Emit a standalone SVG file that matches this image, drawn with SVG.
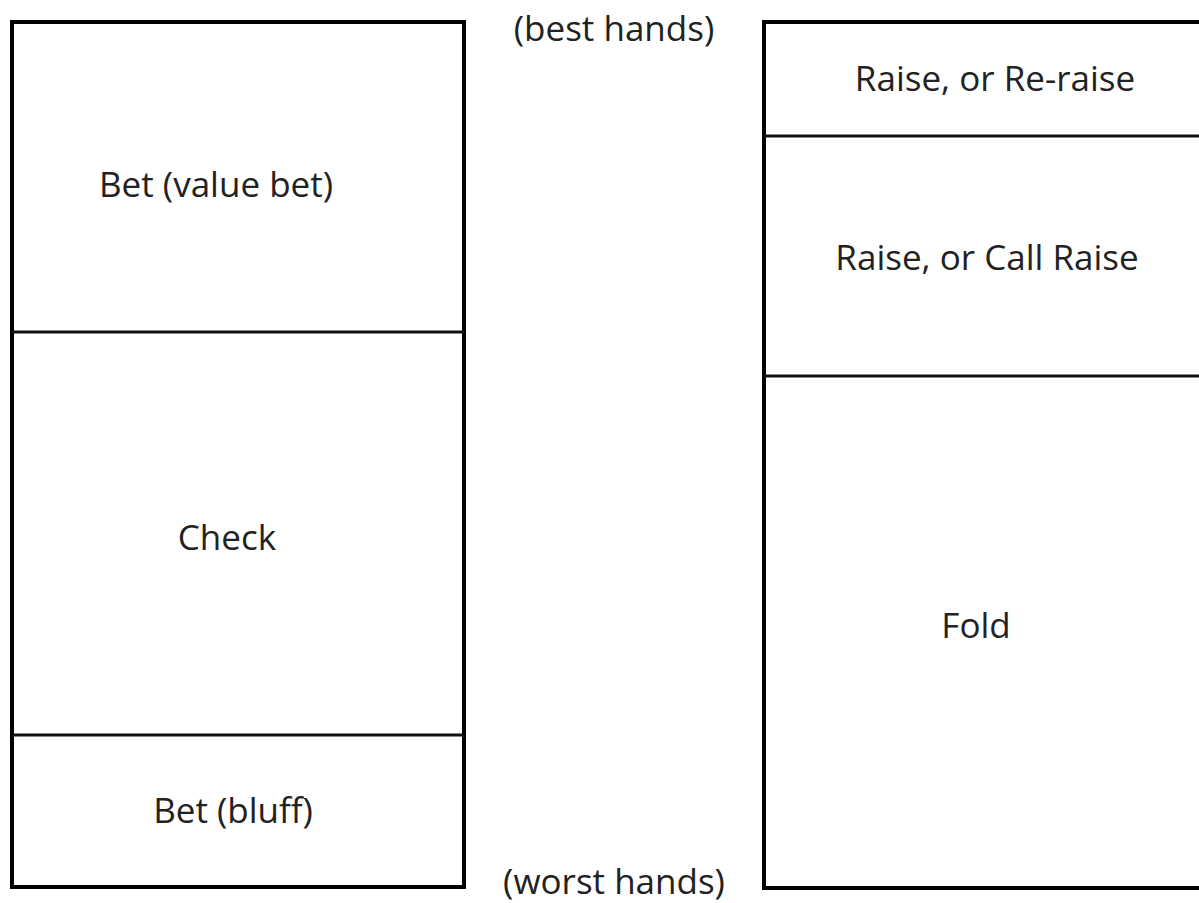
<svg xmlns="http://www.w3.org/2000/svg" width="1199" height="903" viewBox="0 0 1199 903">
<style>
.box{fill:#fff;stroke:#000;stroke-width:4}
.div{stroke:#111;stroke-width:3;fill:none}
text{font-family:"Open Sans","Noto Sans",sans-serif;font-size:35px;fill:#222;text-anchor:middle}
</style>
<rect width="1199" height="903" fill="#fff"/>
<g id="left-column">
<rect class="box" x="12" y="22" width="452" height="865"/>
</g>
<g id="right-column">
<path class="box" d="M1203 22 H764 V888 H1203"/>
</g>
<g id="connectors">
<line class="div" x1="12" y1="332" x2="464" y2="332"/>
<line class="div" x1="12" y1="735" x2="464" y2="735"/>
<line class="div" x1="764" y1="136" x2="1199" y2="136"/>
<line class="div" x1="764" y1="376" x2="1199" y2="376"/>
</g>
<g id="label-best"><text x="614" y="41">(best hands)</text></g>
<g id="label-worst"><text x="614" y="894">(worst hands)</text></g>
<g id="node-bet-value"><text x="216" y="197">Bet (value bet)</text></g>
<g id="node-check"><text x="227" y="550">Check</text></g>
<g id="node-bet-bluff"><text x="233" y="823">Bet (bluff)</text></g>
<g id="node-reraise"><text x="995" y="91">Raise, or Re-raise</text></g>
<g id="node-callraise"><text x="987" y="270">Raise, or Call Raise</text></g>
<g id="node-fold"><text x="976" y="638">Fold</text></g>
</svg>
